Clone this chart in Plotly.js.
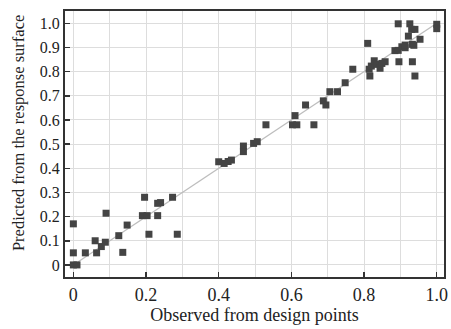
<!DOCTYPE html>
<html>
<head>
<meta charset="utf-8">
<script src="https://cdn.plot.ly/plotly-3.0.1.min.js"></script>
<style>html,body{margin:0;padding:0;background:#fff;}#chart{width:451px;height:329px;}</style>
</head>
<body>
<div id="chart"></div>
<script>
const observed = [0,0,0,0.01,0.033,0.06,0.064,0.077,0.088,0.09,0.125,0.136,0.148,0.196,0.19,0.203,0.208,0.232,0.24,0.232,0.273,0.286,
  0.40,0.415,0.426,0.435,0.468,0.468,0.496,0.506,
  0.530,0.603,0.615,0.61,0.639,0.662,0.688,0.695,0.706,0.727,0.748,0.769,0.81,
  0.816,0.814,0.82,0.828,0.835,0.844,0.849,0.858,
  0.885,0.894,0.896,0.904,0.913,0.913,0.922,0.926,0.894,0.931,0.94,0.954,0.933,0.937,0.933,0.94,1.0,1.0];
const predicted = [0.17,0.05,0,0,0.05,0.10,0.05,0.076,0.094,0.214,0.121,0.052,0.165,0.28,0.204,0.204,0.127,0.255,0.258,0.204,0.28,0.127,
  0.427,0.42,0.428,0.434,0.492,0.469,0.503,0.51,
  0.58,0.58,0.58,0.618,0.662,0.58,0.679,0.662,0.717,0.717,0.754,0.81,0.917,
  0.782,0.81,0.823,0.845,0.83,0.814,0.834,0.841,
  0.887,0.888,0.841,0.903,0.899,0.91,0.947,0.998,0.998,0.975,0.975,0.934,0.913,0.909,0.841,0.782,0.996,0.978];
const fitLine = [0, 1];
const xTickVals = [0,0.2,0.4,0.6,0.8,1.0];
const xTickText = ["0","0.2","0.4","0.6","0.8","1.0"];
const yTickVals = [0,0.1,0.2,0.3,0.4,0.5,0.6,0.7,0.8,0.9,1.0];
const yTickText = ["0","0.1","0.2","0.3","0.4","0.5","0.6","0.7","0.8","0.9","1.0"];
const xTitle = "Observed from design points";
const yTitle = "Predicted from the response surface";

const serif = "Liberation Serif, Times New Roman, serif";
const data = [
  {x: fitLine, y: fitLine, mode: "lines", type: "scatter",
   line: {color: "#bdbdbd", width: 1.3}, hoverinfo: "skip"},
  {x: observed, y: predicted, mode: "markers", type: "scatter",
   marker: {symbol: "square", size: 7, color: "#444444"}}
];
const layout = {
  width: 451, height: 329,
  margin: {l: 65, r: 7, t: 11, b: 52},
  paper_bgcolor: "#fff", plot_bgcolor: "#fff",
  showlegend: false,
  font: {family: serif, color: "#222"},
  xaxis: {
    range: [-0.023, 1.02],
    tickvals: xTickVals, ticktext: xTickText,
    ticks: "inside", ticklen: 5, tickwidth: 1.5, tickcolor: "#333",
    showgrid: true, gridcolor: "#dddddd", gridwidth: 1,
    minor: {dtick: 0.1, tick0: 0, showgrid: true, gridcolor: "#dddddd", gridwidth: 1, ticks: ""},
    zeroline: false,
    showline: true, linecolor: "#333", linewidth: 2, mirror: true,
    tickfont: {family: serif, size: 18, color: "#222"},
    title: {text: xTitle, font: {family: serif, size: 18, color: "#222"}, standoff: 4}
  },
  yaxis: {
    range: [-0.05, 1.051],
    tickvals: yTickVals, ticktext: yTickText,
    ticks: "inside", ticklen: 5, tickwidth: 1.5, tickcolor: "#333",
    showgrid: true, gridcolor: "#dddddd", gridwidth: 1,
    zeroline: false,
    showline: true, linecolor: "#333", linewidth: 2, mirror: true,
    tickfont: {family: serif, size: 16, color: "#222"}
  },
  annotations: [
    {text: yTitle, textangle: -90, xref: "paper", yref: "paper",
     x: -0.124, y: 0.541, xanchor: "center", yanchor: "middle", showarrow: false,
     font: {family: serif, size: 16.5, color: "#222"}}
  ]
};
Plotly.newPlot("chart", data, layout, {displayModeBar: false, staticPlot: true});
</script>
</body>
</html>
